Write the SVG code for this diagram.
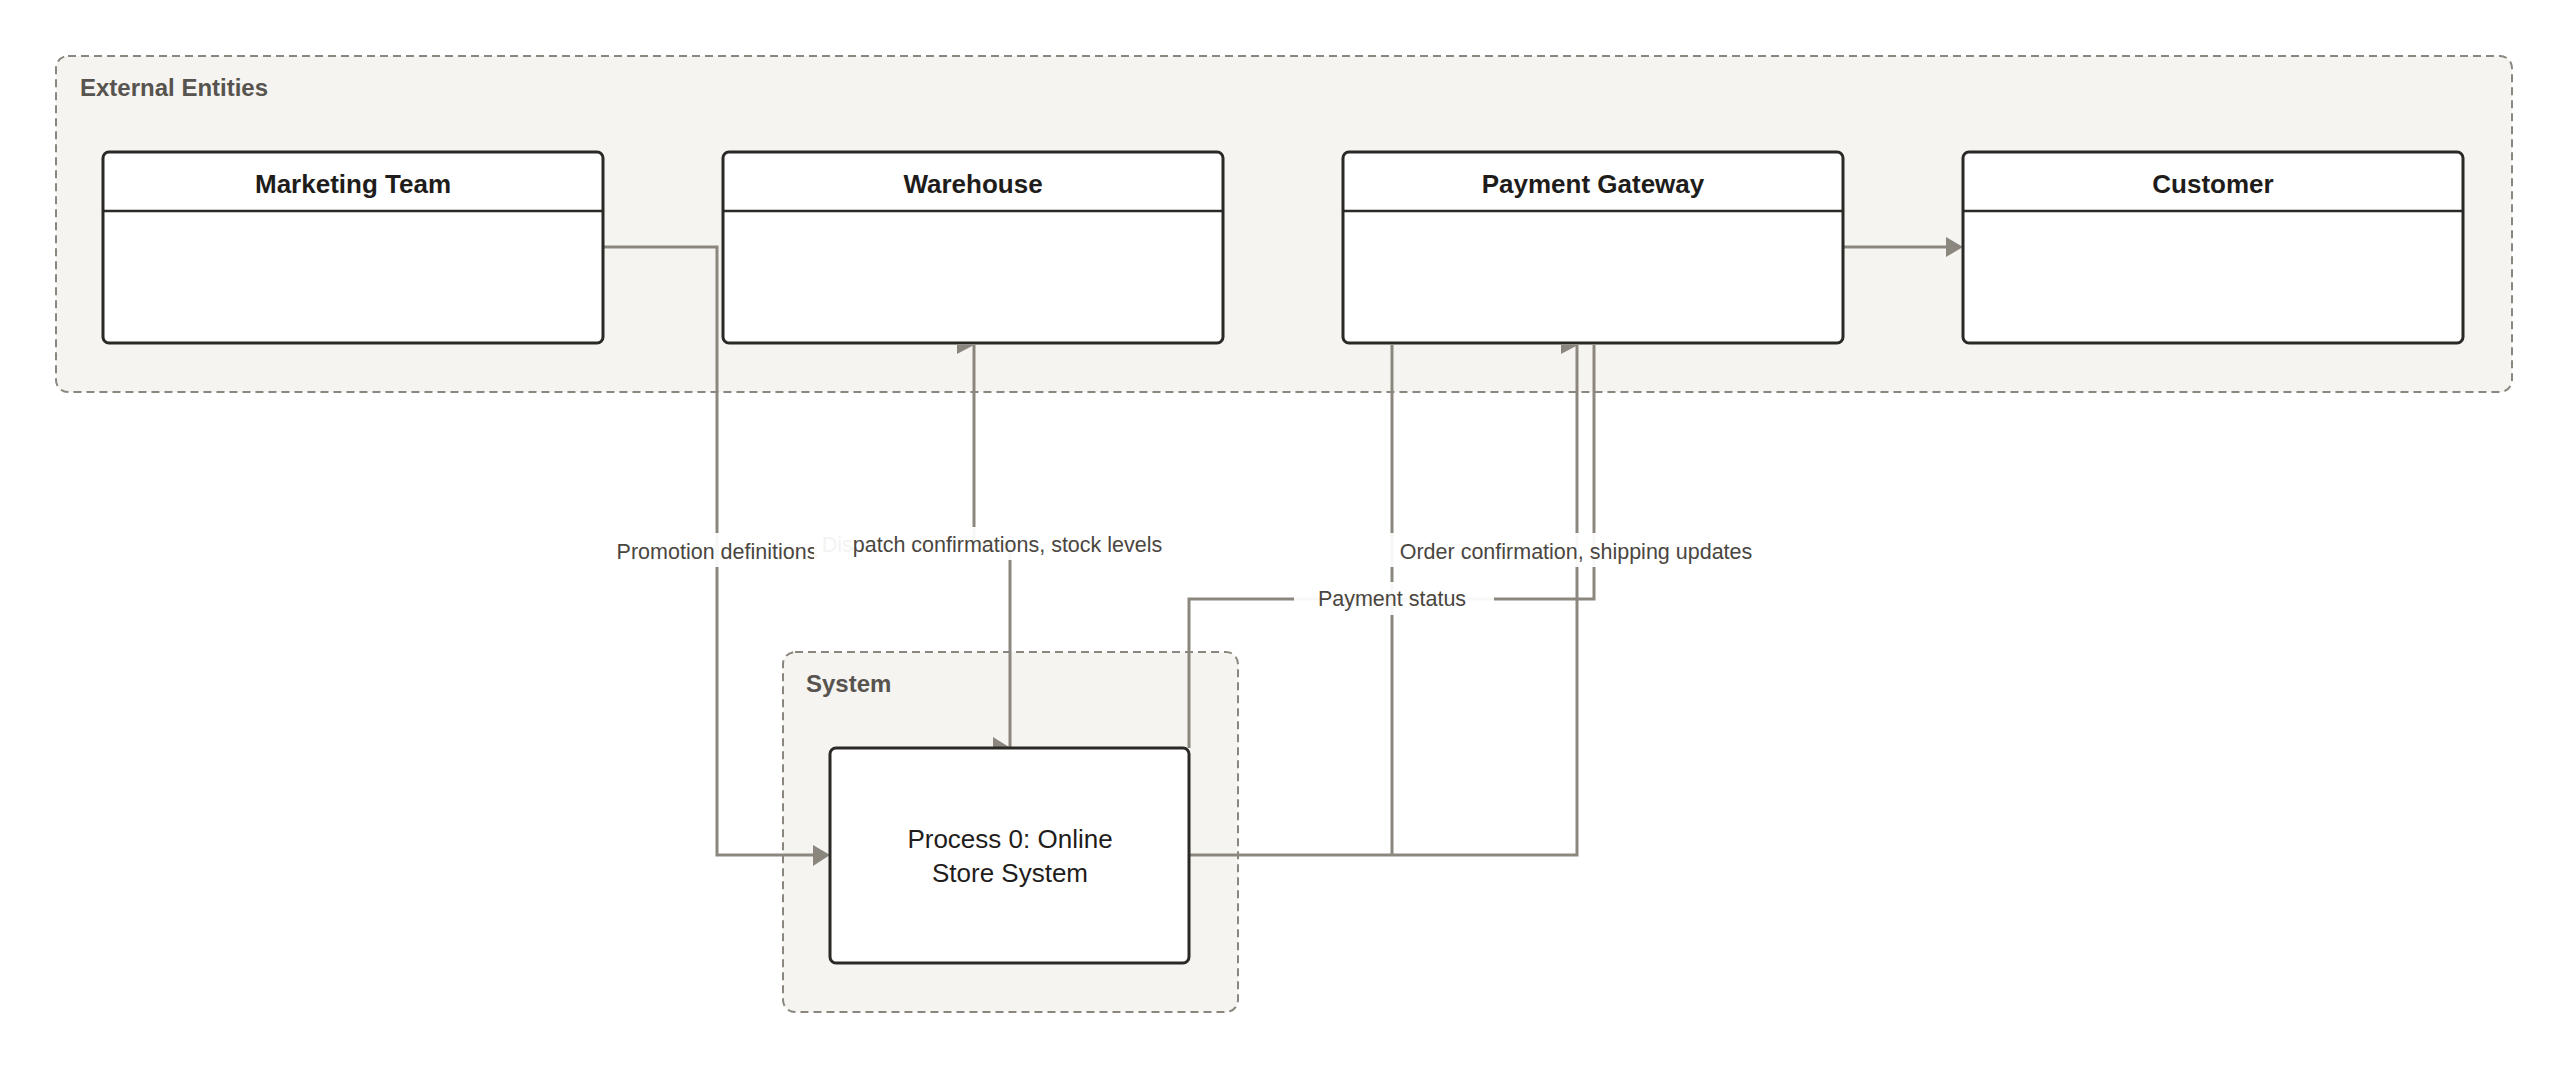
<svg xmlns="http://www.w3.org/2000/svg" width="2568" height="1068" viewBox="0 0 2568 1068">
  <style>
    .container { fill: #f5f4f1; stroke: #8b877f; stroke-width: 2; stroke-dasharray: 8 5; }
    .container-label { font-family: "Liberation Sans", Arial, sans-serif; font-size: 24px; font-weight: bold; fill: #57534e; }
    .box { fill: #ffffff; stroke: #2b2926; stroke-width: 3; }
    .divider { stroke: #2b2926; stroke-width: 2.5; }
    .title { font-family: "Liberation Sans", Arial, sans-serif; font-size: 26px; font-weight: bold; fill: #1f1d1b; text-anchor: middle; }
    .proc-text { font-family: "Liberation Sans", Arial, sans-serif; font-size: 26px; fill: #1f1d1b; text-anchor: middle; }
    .wire { fill: none; stroke: #8b877f; stroke-width: 3; }
    .head { fill: #8b877f; }
    .label-bg { fill: #ffffff; fill-opacity: 0.93; }
    .label { font-family: "Liberation Sans", Arial, sans-serif; font-size: 21.5px; fill: #4a4640; text-anchor: middle; }
  </style>
  <rect width="2568" height="1068" fill="#ffffff"/>

  <g id="container-external-entities">
    <rect class="container" x="56" y="56" width="2456" height="336" rx="12"/>
    <text class="container-label" x="80" y="96">External Entities</text>
  </g>
  <g id="container-system">
    <rect class="container" x="783" y="652" width="455" height="360" rx="12"/>
    <text class="container-label" x="806" y="692">System</text>
  </g>

  <g id="connectors">
    <path class="wire" d="M603 247 H717 V855 H814"/>
    <polygon class="head" points="813,845 830,855 813,866"/>

    <path class="wire" d="M974 345 V544 H1010 V747"/>
    <polygon class="head" points="957,345 974,345 957,354"/>
    <polygon class="head" points="993,737 993,747 1009,747"/>

    <path class="wire" d="M1189 748 V599 H1594 V345"/>
    <path class="wire" d="M1392 345 V855"/>
    <path class="wire" d="M1189 855 H1577 V345"/>
    <polygon class="head" points="1561,345 1578,345 1561,354"/>

    <path class="wire" d="M1843 247 H1947"/>
    <polygon class="head" points="1946,237 1963,247 1946,257"/>
  </g>

  <g id="node-marketing-team">
    <rect class="box" x="103" y="152" width="500" height="191" rx="6"/>
    <line class="divider" x1="103" y1="211" x2="603" y2="211"/>
    <text class="title" x="353" y="193">Marketing Team</text>
  </g>
  <g id="node-warehouse">
    <rect class="box" x="723" y="152" width="500" height="191" rx="6"/>
    <line class="divider" x1="723" y1="211" x2="1223" y2="211"/>
    <text class="title" x="973" y="193">Warehouse</text>
  </g>
  <g id="node-payment-gateway">
    <rect class="box" x="1343" y="152" width="500" height="191" rx="6"/>
    <line class="divider" x1="1343" y1="211" x2="1843" y2="211"/>
    <text class="title" x="1593" y="193">Payment Gateway</text>
  </g>
  <g id="node-customer">
    <rect class="box" x="1963" y="152" width="500" height="191" rx="6"/>
    <line class="divider" x1="1963" y1="211" x2="2463" y2="211"/>
    <text class="title" x="2213" y="193">Customer</text>
  </g>
  <g id="node-process-0">
    <rect class="box" x="830" y="748" width="359" height="215" rx="6"/>
    <text class="proc-text" x="1010" y="848">Process 0: Online</text>
    <text class="proc-text" x="1010" y="882">Store System</text>
  </g>

  <g id="connector-labels">
    <rect class="label-bg" x="606" y="533" width="222" height="34"/>
    <text class="label" x="717" y="559">Promotion definitions</text>

    <rect class="label-bg" x="814" y="527" width="357" height="33"/>
    <text class="label" x="992" y="552">Dispatch confirmations, stock levels</text>
    <rect class="label-bg" x="822" y="529" width="30" height="30" fill-opacity="0.8"/>

    <rect class="label-bg" x="1389" y="533" width="374" height="34"/>
    <text class="label" x="1576" y="559">Order confirmation, shipping updates</text>

    <rect class="label-bg" x="1294" y="582" width="200" height="33"/>
    <text class="label" x="1392" y="606">Payment status</text>
  </g>
</svg>
